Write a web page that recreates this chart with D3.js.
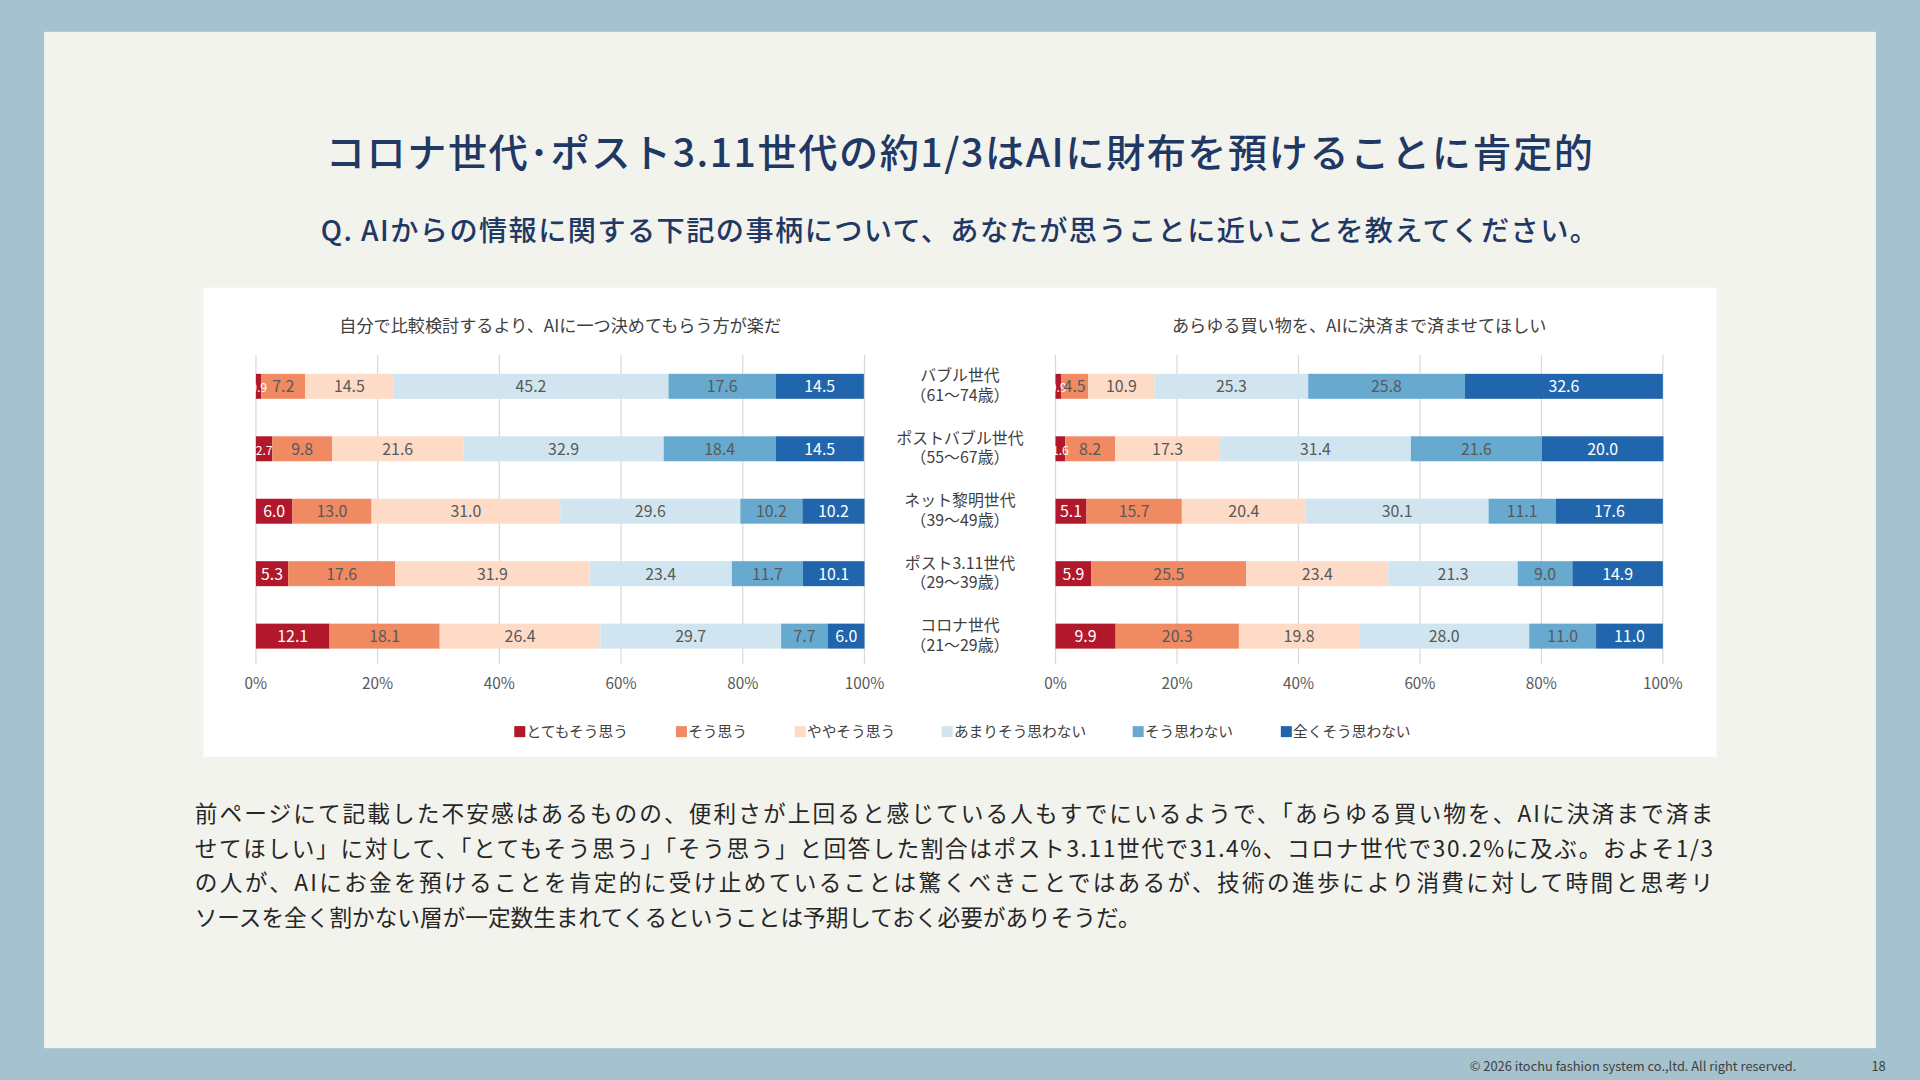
<!DOCTYPE html>
<html lang="ja">
<head>
<meta charset="utf-8">
<script src="https://d3js.org/d3.v7.min.js"></script>
<style>
  body { margin: 0; background: #a5c3cf; }
  text { font-family: "Noto Sans CJK JP", "Noto Sans", sans-serif; }
</style>
</head>
<body>
<div id="chart"></div>
<script>
const groups = ["バブル世代|（61～74歳）", "ポストバブル世代|（55～67歳）", "ネット黎明世代|（39～49歳）", "ポスト3.11世代|（29～39歳）", "コロナ世代|（21～29歳）"];
const answers = ["とてもそう思う", "そう思う", "ややそう思う", "あまりそう思わない", "そう思わない", "全くそう思わない"];
const colors = ["#b2182b", "#ef8a62", "#fddbc7", "#d1e5f0", "#67a9cf", "#2166ac"];
const leftValues = [
  [0.9, 7.2, 14.5, 45.2, 17.6, 14.5],
  [2.7, 9.8, 21.6, 32.9, 18.4, 14.5],
  [6.0, 13.0, 31.0, 29.6, 10.2, 10.2],
  [5.3, 17.6, 31.9, 23.4, 11.7, 10.1],
  [12.1, 18.1, 26.4, 29.7, 7.7, 6.0]
];
const rightValues = [
  [0.9, 4.5, 10.9, 25.3, 25.8, 32.6],
  [1.6, 8.2, 17.3, 31.4, 21.6, 20.0],
  [5.1, 15.7, 20.4, 30.1, 11.1, 17.6],
  [5.9, 25.5, 23.4, 21.3, 9.0, 14.9],
  [9.9, 20.3, 19.8, 28.0, 11.0, 11.0]
];
const ticks = [0, 20, 40, 60, 80, 100];
const bodyLines = [
  "前ページにて記載した不安感はあるものの、便利さが上回ると感じている人もすでにいるようで、「あらゆる買い物を、AIに決済まで済ま",
  "せてほしい」に対して、「とてもそう思う」「そう思う」と回答した割合はポスト3.11世代で31.4%、コロナ世代で30.2%に及ぶ。およそ1/3",
  "の人が、AIにお金を預けることを肯定的に受け止めていることは驚くべきことではあるが、技術の進歩により消費に対して時間と思考リ",
  "ソースを全く割かない層が一定数生まれてくるということは予期しておく必要がありそうだ。"
];

const svg = d3.select("#chart").append("svg")
  .attr("width", 1920).attr("height", 1080)
  .attr("viewBox", "0 0 1568 882");

svg.append("rect").attr("width", 1568).attr("height", 882).attr("fill", "#a5c3cf");
svg.append("rect").attr("x", 36).attr("y", 26).attr("width", 1496).attr("height", 830).attr("fill", "#f3f3ee");

svg.append("text").attr("x", 266).attr("y", 136)
  .attr("font-size", 32).attr("font-weight", 500).attr("fill", "#1f3864")
  .attr("textLength", 1035).attr("lengthAdjust", "spacing")
  .text("コロナ世代･ポスト3.11世代の約1/3はAIに財布を預けることに肯定的");
svg.append("text").attr("x", 262).attr("y", 197)
  .attr("font-size", 23).attr("font-weight", 500).attr("fill", "#1f3864")
  .attr("textLength", 1043).attr("lengthAdjust", "spacing")
  .text("Q. AIからの情報に関する下記の事柄について、あなたが思うことに近いことを教えてください。");

svg.append("rect").attr("x", 166).attr("y", 235).attr("width", 1236).attr("height", 383).attr("fill", "#ffffff");

const y = d3.scaleBand().domain(groups).range([290, 545]).paddingInner(0.6).paddingOuter(0.3);

function drawChart(x0, x1, title, values) {
  const x = d3.scaleLinear().domain([0, 100]).range([x0, x1]);
  const g = svg.append("g");
  g.append("text").attr("x", (x0 + x1) / 2).attr("y", 271).attr("text-anchor", "middle")
    .attr("font-size", 14).attr("fill", "#404040").text(title);
  g.selectAll(".grid").data(ticks).enter().append("line")
    .attr("x1", d => x(d)).attr("x2", d => x(d))
    .attr("y1", 290).attr("y2", 542).attr("stroke", "#d9d9d9").attr("stroke-width", 1);
  g.selectAll(".tick").data(ticks).enter().append("text")
    .attr("x", d => x(d)).attr("y", 563).attr("text-anchor", "middle")
    .attr("font-size", 12.5).attr("fill", "#595959").text(d => d + "%");
  values.forEach((row, i) => {
    let acc = 0;
    const segs = row.map((v, j) => { const s = { v, j, start: acc }; acc += v; return s; });
    const rg = g.append("g");
    rg.selectAll("rect").data(segs).enter().append("rect")
      .attr("x", d => x(d.start)).attr("width", d => x(d.start + d.v) - x(d.start))
      .attr("y", y(groups[i])).attr("height", y.bandwidth())
      .attr("fill", d => colors[d.j]);
    rg.selectAll("text").data(segs).enter().append("text")
      .attr("x", d => (x(d.start) + x(d.start + d.v)) / 2)
      .attr("y", y(groups[i]) + y.bandwidth() / 2 + 5)
      .attr("text-anchor", "middle").attr("font-size", d => d.v < 3 ? 10 : 13)
      .attr("fill", d => (d.j === 0 || d.j === 5) ? "#ffffff" : "#595959")
      .text(d => d.v.toFixed(1));
  });
}
drawChart(209, 706, "自分で比較検討するより、AIに一つ決めてもらう方が楽だ", leftValues);
drawChart(862, 1358, "あらゆる買い物を、AIに決済まで済ませてほしい", rightValues);

groups.forEach(gname => {
  const parts = gname.split("|");
  const cy = y(gname) + y.bandwidth() / 2;
  svg.append("text").attr("x", 784).attr("y", cy - 4).attr("text-anchor", "middle")
    .attr("font-size", 13).attr("fill", "#404040").text(parts[0]);
  svg.append("text").attr("x", 784).attr("y", cy + 12).attr("text-anchor", "middle")
    .attr("font-size", 13).attr("fill", "#404040").text(parts[1]);
});

const legendX = [420, 552, 649, 769, 925, 1046];
answers.forEach((a, i) => {
  svg.append("rect").attr("x", legendX[i]).attr("y", 593).attr("width", 9).attr("height", 9).attr("fill", colors[i]);
  svg.append("text").attr("x", legendX[i] + 10).attr("y", 602).attr("font-size", 12)
    .attr("fill", "#404040").text(a);
});

bodyLines.forEach((l, i) => {
  svg.append("text").attr("x", 159).attr("y", 671 + i * 28.5).attr("font-size", 18.5)
    .attr("fill", "#262626").attr("textLength", i < 3 ? 1240 : null).text(l);
});

svg.append("text").attr("x", 1467).attr("y", 875).attr("text-anchor", "end").attr("font-size", 10.5)
  .attr("fill", "#404040").text("© 2026 itochu fashion system co.,ltd. All right reserved.");
svg.append("text").attr("x", 1540).attr("y", 875).attr("text-anchor", "end").attr("font-size", 10.5)
  .attr("fill", "#404040").text("18");
</script>
</body>
</html>
